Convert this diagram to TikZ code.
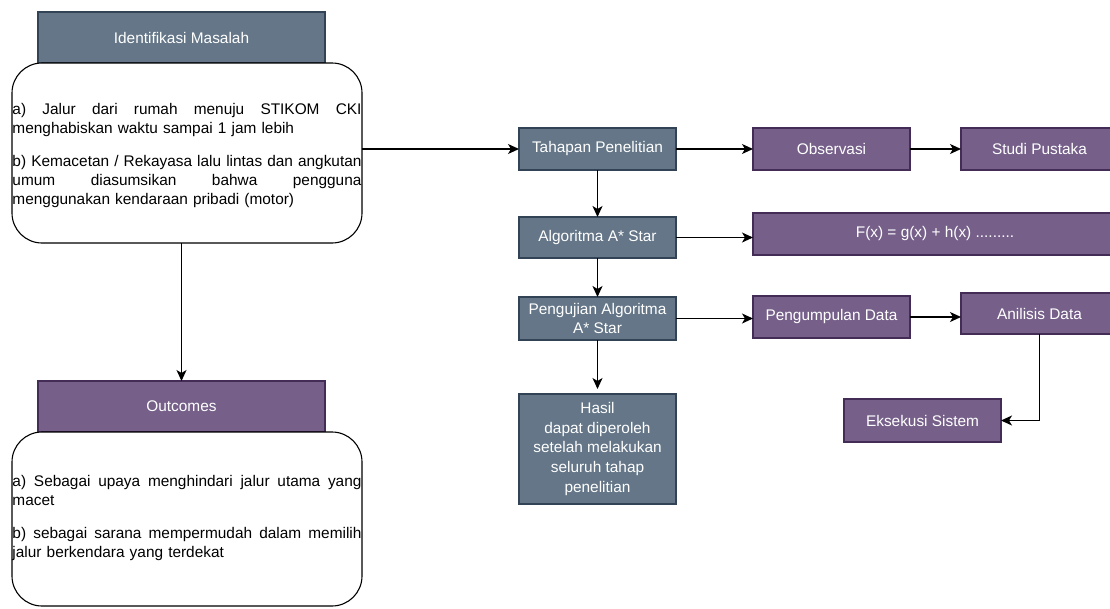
\documentclass[tikz,border=0pt]{standalone}
\usepackage{fontspec}
\setmainfont{Liberation Sans}
\usetikzlibrary{arrows.meta,calc}
\definecolor{slatefill}{HTML}{647687}
\definecolor{slatedraw}{HTML}{314354}
\definecolor{purpfill}{HTML}{76608A}
\definecolor{purpdraw}{HTML}{432D57}
\tikzset{
  base/.style={rectangle, inner sep=0pt, outer sep=0pt, line width=1.1pt, text=white, align=center,
    font=\fontsize{15.4}{19.7}\selectfont},
  slatebox/.style={base, fill=slatefill, draw=slatedraw},
  purpbox/.style={base, fill=purpfill, draw=purpdraw},
  roundbox/.style={rectangle, rounded corners=30pt, draw=black, fill=white, line width=1.1pt,
    inner sep=0pt, outer sep=0pt, minimum width=350pt},
  bodytext/.style={inner sep=0pt, outer sep=0pt, text width=349pt, align=left,
    font=\fontsize{15.4}{19}\selectfont, text=black},
  arr/.style={draw=black, line width=1.4pt, -{Stealth[length=11pt,width=10pt,inset=3pt]}}
}
\newcommand{\jline}[1]{\makebox[349pt][s]{\spaceskip=0pt\xspaceskip=0pt #1}}
\begin{document}
\begin{tikzpicture}[x=1pt,y=-1pt]
\useasboundingbox (0,0) rectangle (1110,608);
\clip (0,0) rectangle (1110,608);
% left column
\node[slatebox, minimum width=287pt, minimum height=51pt] (idh) at (181.5,37.5) {Identifikasi Masalah};
\node[roundbox, minimum height=180pt] (idb) at (187,153) {};
\node[bodytext] (idt) at (187,156) {%
\jline{a) Jalur dari rumah menuju STIKOM CKI}\\
menghabiskan waktu sampai 1 jam lebih\\[14pt]
\jline{b) Kemacetan / Rekayasa lalu lintas dan angkutan}\\
\jline{umum diasumsikan bahwa pengguna}\\
menggunakan kendaraan pribadi (motor)};
\node[purpbox, minimum width=287pt, minimum height=51pt] (outh) at (181.5,406.5) {Outcomes};
\node[roundbox, minimum height=174pt] (outb) at (187,519) {};
\node[bodytext] (outt) at (187,518.5) {%
\jline{a) Sebagai upaya menghindari jalur utama yang}\\
macet\\[14pt]
\jline{b) sebagai sarana mempermudah dalam memilih}\\
jalur berkendara yang terdekat};
% middle column
\node[slatebox, minimum width=157pt, minimum height=42pt] (tah) at (597.5,149) {Tahapan Penelitian};
\node[slatebox, minimum width=157pt, minimum height=41pt] (alg) at (597.5,237.5) {Algoritma A* Star};
\node[slatebox, minimum width=157pt, minimum height=43pt] (pen) at (597.5,318.5) {Pengujian Algoritma\\A* Star};
\node[slatebox, minimum width=157pt, minimum height=110pt] (has) at (597.5,449) {Hasil\\dapat diperoleh\\setelah melakukan\\seluruh tahap\\penelitian};
% right columns
\node[purpbox, minimum width=157pt, minimum height=42pt] (obs) at (831.5,149) {Observasi};
\node[purpbox, minimum width=157pt, minimum height=42pt] (stu) at (1039.5,149) {Studi Pustaka};
\node[purpbox, minimum width=364pt, minimum height=42pt] (fx) at (935,234) {\raisebox{-2pt}{F(x) = g(x) + h(x) .........}};
\node[purpbox, minimum width=157pt, minimum height=42pt] (pgd) at (831.5,317) {Pengumpulan Data};
\node[purpbox, minimum width=157pt, minimum height=41pt] (ana) at (1039.5,313.5) {Anilisis Data};
\node[purpbox, minimum width=157pt, minimum height=43pt] (eks) at (922.5,420.5) {Eksekusi Sistem};
% connectors
\draw[arr] (outh.north |- idb.south) -- (outh.north);
\draw[arr] (tah.west -| idb.east) -- (tah.west);
\draw[arr] (tah.east) -- (obs.west);
\draw[arr] (obs.east) -- (stu.west);
\draw[arr] (tah.south) -- (alg.north);
\draw[arr] (alg.east) -- (alg.east -| fx.west);
\draw[arr] (alg.south) -- (pen.north);
\draw[arr] (pen.east) -- (pen.east -| pgd.west);
\draw[arr] (pgd.east) -- (pgd.east -| ana.west);
\draw[arr, shorten >=5pt] (pen.south) -- (has.north);
\draw[arr] (ana.south) |- (eks.east);
\end{tikzpicture}
\end{document}
